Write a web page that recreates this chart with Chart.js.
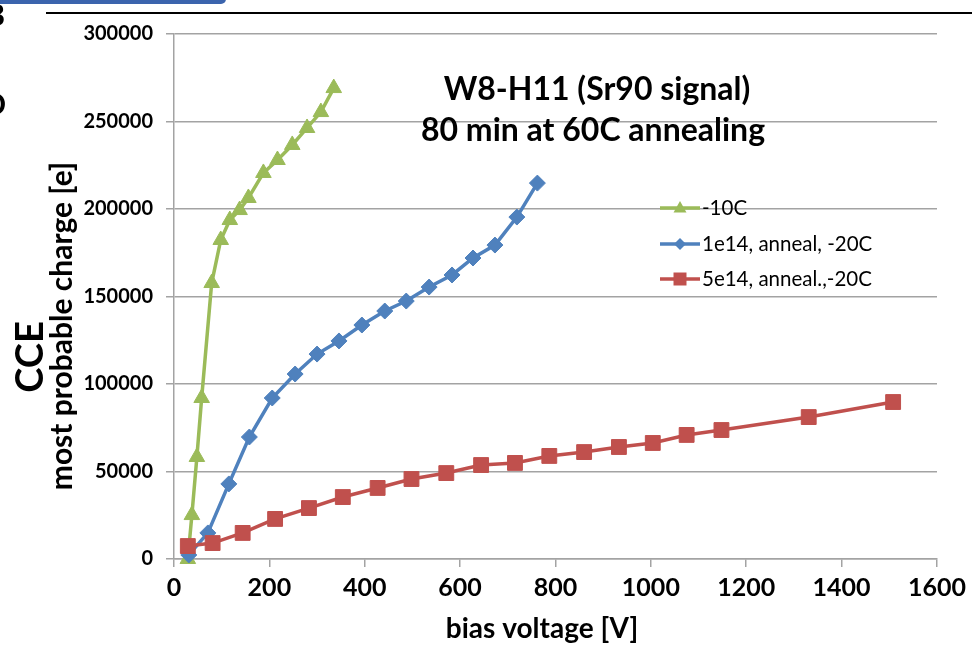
<!DOCTYPE html>
<html lang="en">
<head>
<meta charset="UTF-8">
<title>CCE vs bias voltage</title>
<script src="https://cdn.jsdelivr.net/npm/chart.js"></script>
<style>
    html, body {
        margin: 0;
        padding: 0;
        background: #fff;
    }
    #wrap {
        position: relative;
        width: 972px;
        height: 646px;
    }
</style>
</head>
<body>
<div id="wrap"><canvas id="cceChart"></canvas></div>
<script>
    // values
    const voltsM10 = [29, 37.5, 48, 58, 79, 98, 117, 137.5, 156, 187.5, 217, 248, 279, 308, 335];
    const chargeM10 = [0, 25100, 58300, 92000, 157700, 182300, 193700, 199400, 206300, 220600, 228000, 236600, 246300, 255400, 269100];

    const volts1e14 = [31, 71, 115, 158, 206, 254, 300, 346, 394, 442, 487, 535, 583, 627, 673, 719, 762];
    const charge1e14 = [2300, 14900, 42900, 69700, 92000, 105700, 117100, 124600, 133700, 141700, 147400, 155400, 162300, 172000, 179400, 195400, 214800];

    const volts5e14 = [29, 81, 144, 212, 283, 354, 427, 498, 571, 644, 715, 787, 860, 933, 1004, 1075, 1148, 1331, 1508];
    const charge5e14 = [7400, 9100, 14900, 22900, 29100, 35400, 40600, 45700, 49100, 53700, 54900, 58900, 61100, 64000, 66300, 70900, 73700, 81100, 89700];

    const seriesLabels = ['-10C', '1e14, anneal, -20C', '5e14, anneal.,-20C'];
    const xTicks = [0, 200, 400, 600, 800, 1000, 1200, 1400, 1600];
    const yTicks = [0, 50000, 100000, 150000, 200000, 250000, 300000];

    const green = '#9bbb59';
    const blue = '#4f81bd';
    const red = '#c0504d';
    const gridGray = '#a3a3a3';

    function pts(xs, ys) {
        return xs.map((x, i) => ({ x: x, y: ys[i] }));
    }

    // legend, titles and the cut-off slide bits around the chart
    const decor = {
        id: 'decor',
        afterDraw(chart) {
            const ctx = chart.ctx;
            ctx.save();

            // slide header remains
            ctx.fillStyle = '#3b64ad';
            ctx.beginPath();
            ctx.roundRect(-10, -10, 236, 14, 5);
            ctx.fill();
            ctx.fillStyle = '#000';
            ctx.fillRect(46, 12, 926, 2);
            ctx.font = 'bold 30px Lato';
            ctx.textAlign = 'right';
            ctx.textBaseline = 'alphabetic';
            ctx.fillText('B', 5, 26);
            ctx.fillText('D', 6, 115);

            // chart title
            ctx.textAlign = 'center';
            ctx.font = 'bold 32px Lato';
            ctx.fillText('W8-H11 (Sr90 signal)', 597, 100);
            ctx.fillText('80 min at 60C annealing', 593, 141);

            // x title
            ctx.font = 'bold 28px Lato';
            ctx.fillText('bias voltage [V]', 542, 638);

            // y titles
            ctx.save();
            ctx.translate(43, 357);
            ctx.rotate(-Math.PI / 2);
            ctx.font = 'bold 38px Lato';
            ctx.fillText('CCE', 0, 0);
            ctx.restore();
            ctx.save();
            ctx.translate(72, 326);
            ctx.rotate(-Math.PI / 2);
            ctx.font = 'bold 30px Lato';
            ctx.fillText('most probable charge [e]', 0, 0);
            ctx.restore();

            // legend
            const rows = [208, 244, 279];
            const cols = [green, blue, red];
            const shapes = ['tri', 'dia', 'sq'];
            ctx.font = '20.5px Lato';
            ctx.textAlign = 'left';
            ctx.textBaseline = 'middle';
            rows.forEach((y, i) => {
                ctx.strokeStyle = cols[i];
                ctx.fillStyle = cols[i];
                ctx.lineWidth = 3.5;
                ctx.beginPath();
                ctx.moveTo(660, y);
                ctx.lineTo(700, y);
                ctx.stroke();
                ctx.beginPath();
                if (shapes[i] === 'tri') {
                    ctx.moveTo(680, y - 7);
                    ctx.lineTo(686.5, y + 4.5);
                    ctx.lineTo(673.5, y + 4.5);
                } else if (shapes[i] === 'dia') {
                    ctx.moveTo(680, y - 6);
                    ctx.lineTo(686, y);
                    ctx.lineTo(680, y + 6);
                    ctx.lineTo(674, y);
                } else {
                    ctx.rect(673.5, y - 6.5, 13, 13);
                }
                ctx.closePath();
                ctx.fill();
                ctx.fillStyle = '#000';
                ctx.fillText(seriesLabels[i], 702, y);
            });

            ctx.restore();
        }
    };

    new Chart(document.getElementById('cceChart'), {
        type: 'line',
        data: {
            datasets: [
                {
                    label: seriesLabels[0],
                    data: pts(voltsM10, chargeM10),
                    borderColor: green,
                    backgroundColor: green,
                    pointStyle: 'triangle',
                    pointRadius: 9,
                    order: 3
                },
                {
                    label: seriesLabels[1],
                    data: pts(volts1e14, charge1e14),
                    borderColor: blue,
                    backgroundColor: blue,
                    pointStyle: 'rectRot',
                    pointRadius: 8,
                    order: 2
                },
                {
                    label: seriesLabels[2],
                    data: pts(volts5e14, charge5e14),
                    borderColor: red,
                    backgroundColor: red,
                    pointStyle: 'rect',
                    pointRadius: 10.5,
                    order: 1
                }
            ]
        },
        options: {
            responsive: true,
            maintainAspectRatio: false,
            animation: false,
            layout: { padding: { top: 34, right: 30, left: 0, bottom: 0 } },
            elements: {
                line: { borderWidth: 3.5, tension: 0 },
                point: { borderWidth: 1 }
            },
            datasets: { line: { clip: false } },
            plugins: {
                legend: { display: false },
                tooltip: { enabled: false }
            },
            scales: {
                x: {
                    type: 'linear',
                    min: 0,
                    max: 1600,
                    afterBuildTicks: s => { s.ticks = xTicks.map(v => ({ value: v })); },
                    afterFit: s => { s.height = 87; },
                    ticks: {
                        color: '#000',
                        font: { family: 'Lato', size: 25, weight: 'bold' },
                        padding: 6,
                        maxRotation: 0,
                        callback: v => String(v)
                    },
                    grid: {
                        drawOnChartArea: false,
                        color: gridGray,
                        lineWidth: 1.5,
                        tickLength: 8
                    },
                    border: { color: gridGray, width: 1.5 }
                },
                y: {
                    min: 0,
                    max: 300000,
                    afterBuildTicks: s => { s.ticks = yTicks.map(v => ({ value: v })); },
                    afterFit: s => { s.width = 174; },
                    ticks: {
                        color: '#000',
                        font: { family: 'Lato', size: 20, weight: 'bold' },
                        padding: 13,
                        callback: v => String(v)
                    },
                    grid: {
                        color: gridGray,
                        lineWidth: 1.5,
                        tickLength: 8
                    },
                    border: { color: gridGray, width: 1.5 }
                }
            }
        },
        plugins: [decor]
    });
</script>
</body>
</html>
